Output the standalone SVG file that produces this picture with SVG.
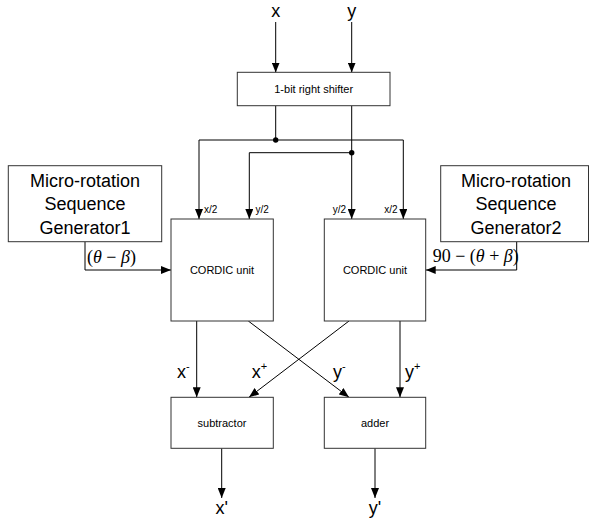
<svg xmlns="http://www.w3.org/2000/svg" width="589" height="521" viewBox="0 0 589 521">
<style>
.box{fill:#fff;stroke:#333;stroke-width:1}
.ln{fill:none;stroke:#000;stroke-width:1}
.arr{marker-end:url(#ah)}
.t{font-family:"Liberation Sans",Arial,sans-serif;fill:#000}
.s{font-size:11px}
.m{font-size:18px}
.l{font-size:10px}
.g{font-family:"Liberation Serif","Times New Roman",serif;font-size:18px;fill:#000}
</style>
<defs>
<marker id="ah" markerWidth="10" markerHeight="8" refX="10" refY="4" orient="auto" markerUnits="userSpaceOnUse">
<path d="M0,0 L10,4 L0,8 Z" fill="#000"/>
</marker>
</defs>
<g id="connectors">
<line class="ln arr" x1="275.7" y1="22" x2="275.7" y2="72.5"/>
<line class="ln arr" x1="351.7" y1="22" x2="351.7" y2="72.5"/>
<line class="ln" x1="275.7" y1="105.7" x2="275.7" y2="140"/>
<line class="ln" x1="351.7" y1="105.7" x2="351.7" y2="152.7"/>
<polyline class="ln arr" points="275.7,140 199,140 199,219"/>
<polyline class="ln arr" points="275.7,140 403.3,140 403.3,219"/>
<polyline class="ln arr" points="351.7,152.7 249.3,152.7 249.3,219"/>
<line class="ln arr" x1="351.7" y1="152.7" x2="351.7" y2="219"/>
<circle cx="275.7" cy="140" r="2.7" fill="#000"/>
<circle cx="351.7" cy="152.7" r="2.7" fill="#000"/>
<polyline class="ln arr" points="85,241.7 85,270 171,270"/>
<polyline class="ln arr" points="516.7,241.7 516.7,270 425.7,270"/>
<line class="ln arr" x1="196.7" y1="321" x2="196.7" y2="397.3"/>
<line class="ln arr" x1="248.3" y1="321" x2="349" y2="397.3"/>
<line class="ln arr" x1="349" y1="321" x2="249" y2="397.3"/>
<line class="ln arr" x1="400" y1="321" x2="400" y2="397.3"/>
<line class="ln arr" x1="221.7" y1="448.3" x2="221.7" y2="498"/>
<line class="ln arr" x1="375" y1="448.3" x2="375" y2="498"/>
</g>
<g id="in-x"><text class="t m" x="275.7" y="17" text-anchor="middle">x</text></g>
<g id="in-y"><text class="t m" x="351.7" y="17" text-anchor="middle">y</text></g>
<g id="shifter">
<rect class="box" x="237.3" y="72.3" width="152.7" height="33.4"/>
<text class="t s" x="313.7" y="93" text-anchor="middle">1-bit right shifter</text>
</g>
<g id="gen1">
<rect class="box" x="8.3" y="165.7" width="153.4" height="76"/>
<text class="t m" x="85" y="186.5" text-anchor="middle">Micro-rotation</text>
<text class="t m" x="85" y="210" text-anchor="middle">Sequence</text>
<text class="t m" x="85" y="234" text-anchor="middle">Generator1</text>
</g>
<g id="gen2">
<rect class="box" x="440.7" y="165.7" width="147.8" height="76"/>
<text class="t m" x="516" y="186.5" text-anchor="middle">Micro-rotation</text>
<text class="t m" x="516" y="210" text-anchor="middle">Sequence</text>
<text class="t m" x="516" y="234" text-anchor="middle">Generator2</text>
</g>
<g id="cordic1">
<rect class="box" x="171" y="219" width="102.3" height="102"/>
<text class="t s" x="222" y="274" text-anchor="middle">CORDIC unit</text>
</g>
<g id="cordic2">
<rect class="box" x="324.3" y="219" width="101.4" height="102"/>
<text class="t s" x="375" y="274" text-anchor="middle">CORDIC unit</text>
</g>
<g id="labels">
<text class="t l" x="204" y="213">x/2</text>
<text class="t l" x="255.5" y="213">y/2</text>
<text class="t l" x="346" y="213" text-anchor="end">y/2</text>
<text class="t l" x="397.5" y="213" text-anchor="end">x/2</text>
<text class="g" x="87" y="263">(<tspan font-style="italic">θ</tspan> − <tspan font-style="italic">β</tspan>)</text>
<text class="g" x="432.7" y="262">90 − (<tspan font-style="italic">θ</tspan> + <tspan font-style="italic">β</tspan>)</text>
<text class="t m" x="177" y="378">x<tspan font-size="11" dy="-8">-</tspan></text>
<text class="t m" x="251.7" y="378">x<tspan font-size="11" dy="-8">+</tspan></text>
<text class="t m" x="333" y="378">y<tspan font-size="11" dy="-8">-</tspan></text>
<text class="t m" x="405" y="378">y<tspan font-size="11" dy="-8">+</tspan></text>
</g>
<g id="subtractor">
<rect class="box" x="171" y="397.3" width="102.3" height="51"/>
<text class="t s" x="222" y="426.5" text-anchor="middle">subtractor</text>
</g>
<g id="adder">
<rect class="box" x="324.3" y="397.3" width="101.4" height="51"/>
<text class="t s" x="375" y="426.5" text-anchor="middle">adder</text>
</g>
<g id="out-x"><text class="t m" x="221.7" y="514" text-anchor="middle">x'</text></g>
<g id="out-y"><text class="t m" x="375" y="514" text-anchor="middle">y'</text></g>
</svg>
